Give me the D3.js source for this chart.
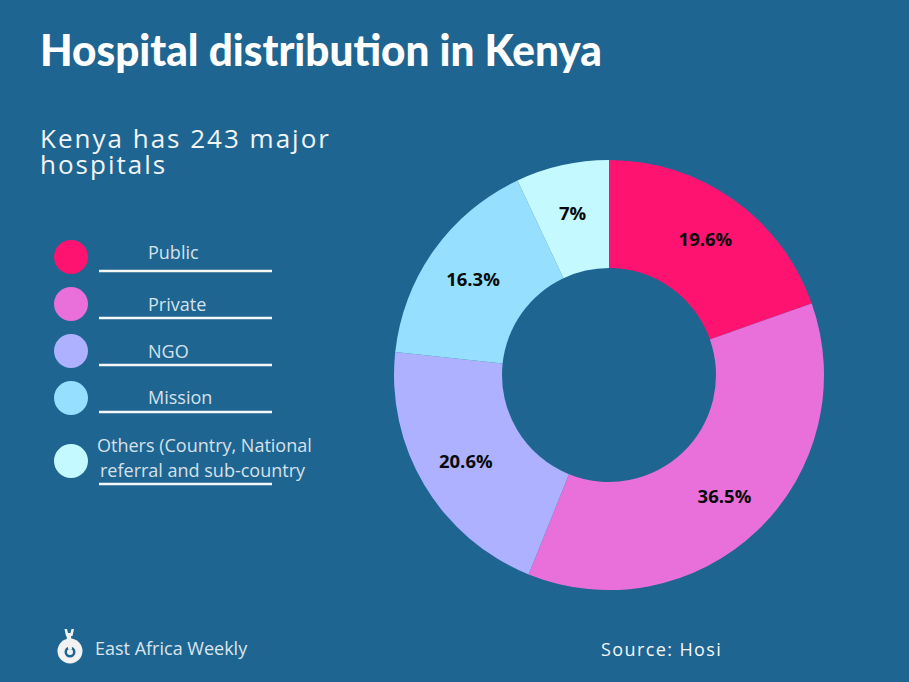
<!DOCTYPE html>
<html>
<head>
<meta charset="utf-8">
<script src="https://cdn.jsdelivr.net/npm/d3@7"></script>
<style>
  html, body { margin: 0; padding: 0; background: #1f6591; }
  svg { display: block; }
</style>
</head>
<body>
<svg id="chart" width="909" height="682"></svg>
<script>
// ---- data ----
const categories = ["Public", "Private", "NGO", "Mission", "Others"];
const values = [19.6, 36.5, 20.6, 16.3, 7];
const valueLabels = ["19.6%", "36.5%", "20.6%", "16.3%", "7%"];
const colors = ["#fe1470", "#e970db", "#adb1ff", "#96dfff", "#c4faff"];
const legendLabels = [["Public"], ["Private"], ["NGO"], ["Mission"], ["Others (Country, National", "referral and sub-country"]];
const titleText = "Hospital distribution in Kenya";
const subtitleLines = ["Kenya has 243 major", "hospitals"];
const brandText = "East Africa Weekly";
const sourceText = "Source: Hosi";

const W = 909, H = 682;
const svg = d3.select("#chart");
svg.append("rect").attr("width", W).attr("height", H).attr("fill", "#1f6591");

// title
svg.append("text")
  .attr("x", 40).attr("y", 66)
  .attr("font-family", "Lato, 'Open Sans', sans-serif")
  .attr("font-weight", 900)
  .attr("font-size", 44)
  .attr("fill", "#ffffff")
  .attr("textLength", 562)
  .attr("lengthAdjust", "spacingAndGlyphs")
  .text(titleText);

// subtitle (single text element with two lines)
const sub = svg.append("text")
  .attr("x", 40).attr("y", 148)
  .attr("font-family", "'Open Sans', sans-serif")
  .attr("font-size", 26)
  .attr("letter-spacing", 2)
  .attr("fill", "#f2f4f6");
sub.selectAll("tspan").data(subtitleLines).join("tspan")
  .attr("x", 40)
  .attr("dy", (d, i) => i === 0 ? 0 : 26)
  .text(d => d);

// legend
const legendY = d3.scalePoint().domain(categories.slice(0, 4)).range([257, 398]);
const circleY = i => i < 4 ? legendY(categories[i]) : 461;
const lineY = [271, 318, 365, 412, 484];
const textY = [[259], [311], [358], [404], [452, 477]];
const legend = svg.append("g");
categories.forEach((c, i) => {
  legend.append("circle")
    .attr("cx", 71).attr("cy", circleY(i)).attr("r", 17)
    .attr("fill", colors[i]);
  legend.append("line")
    .attr("x1", 99).attr("x2", 272)
    .attr("y1", lineY[i]).attr("y2", lineY[i])
    .attr("stroke", "#f4f6f8").attr("stroke-width", 2.5);
  legendLabels[i].forEach((t, j) => {
    const multi = legendLabels[i].length > 1;
    legend.append("text")
      .attr("x", multi ? (j === 0 ? 97 : 100) : 148)
      .attr("y", textY[i][j])
      .attr("font-family", "'Open Sans', sans-serif")
      .attr("font-size", 18)
      .attr("fill", "#d6e1eb")
      .text(t);
  });
});

// donut
const cx = 609, cy = 375, R = 215, r0 = 107;
const pie = d3.pie().sort(null).value(d => d.v);
const arcs = pie(values.map((v, i) => ({ v, i })));
const arc = d3.arc().innerRadius(r0).outerRadius(R);
const labelArc = d3.arc().innerRadius(167).outerRadius(167);
const g = svg.append("g").attr("transform", `translate(${cx},${cy})`);
g.selectAll("path").data(arcs).join("path")
  .attr("d", arc)
  .attr("fill", d => colors[d.data.i]);
g.selectAll("text").data(arcs).join("text")
  .attr("transform", d => `translate(${labelArc.centroid(d)})`)
  .attr("text-anchor", "middle")
  .attr("dominant-baseline", "central")
  .attr("font-family", "'Open Sans', sans-serif")
  .attr("font-weight", 700)
  .attr("font-size", 18.5)
  .attr("fill", "#0a0a0a")
  .text(d => valueLabels[d.data.i]);

// brand logo
const logo = svg.append("g").attr("transform", "translate(70,651)");
logo.append("circle").attr("r", 12.5).attr("fill", "#f2f2f2");
logo.append("circle").attr("cx", 0).attr("cy", 1).attr("r", 5.5).attr("fill", "#1f6591");
logo.append("circle").attr("cx", 0).attr("cy", 1).attr("r", 3).attr("fill", "#f2f2f2");
logo.append("path")
  .attr("d", "M-1.8,-2 L-3.6,-16 L1,-16 L2,-2 Z")
  .attr("fill", "#f2f2f2");
logo.append("path")
  .attr("d", "M-5.5,-22 L-4,-15 L2.5,-15 L4,-22 L1.5,-22 L0.5,-18 L-2,-18 L-3,-22 Z")
  .attr("fill", "#f2f2f2");

svg.append("text")
  .attr("x", 95).attr("y", 655)
  .attr("font-family", "'Open Sans', sans-serif")
  .attr("font-size", 18)
  .attr("fill", "#dbe5ee")
  .text(brandText);

svg.append("text")
  .attr("x", 601).attr("y", 656)
  .attr("font-family", "'Open Sans', sans-serif")
  .attr("font-size", 18)
  .attr("letter-spacing", 1.4)
  .attr("fill", "#f4f6f8")
  .text(sourceText);
</script>
</body>
</html>
